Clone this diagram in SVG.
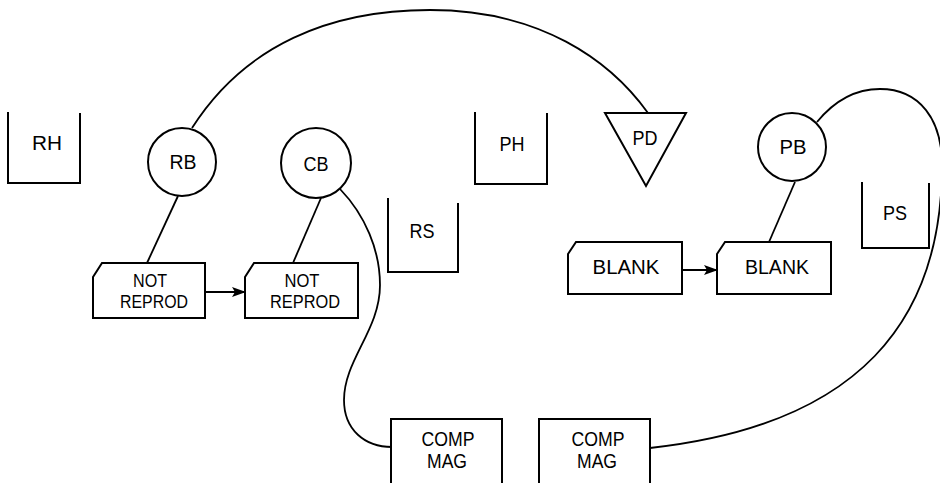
<svg xmlns="http://www.w3.org/2000/svg" width="940" height="483" viewBox="0 0 940 483">
<style>
.s{fill:none;stroke:#000;stroke-width:2;stroke-linejoin:miter}
.c{fill:none;stroke:#000;stroke-width:1.8}
.t{font-family:"Liberation Sans","DejaVu Sans",sans-serif;font-size:20.5px;fill:#000;text-anchor:middle}
.n{font-size:18px}
</style>
<defs>
<marker id="ah" markerWidth="14" markerHeight="10" refX="13" refY="5" orient="auto" markerUnits="userSpaceOnUse">
<path d="M0,0 L14,5 L0,10 L3,5 Z" fill="#000"/>
</marker>
</defs>
<rect width="940" height="483" fill="#fff"/>
<g id="connectors">
<path class="c" d="M192,128 C245,45 330,10 430,10 C540,10 610,60 648,113"/>
<path class="c" d="M178,196 L147,263"/>
<path class="c" d="M321,198 L293,263"/>
<path class="c" d="M340,189 C365,215 380,250 380,285 C380,330 344,360 344,400 C344,430 365,447 392,447"/>
<path class="c" d="M795,182 L769,242"/>
<path class="c" d="M817,122 C835,100 855,89 880,89 C920,89 942,120 942,165 C942,320 860,425 650,448"/>
<path class="c" d="M205,292 L245,292" marker-end="url(#ah)"/>
<path class="c" d="M682,270 L717,270" marker-end="url(#ah)"/>
</g>
<g id="RH">
<path class="s" d="M8,112 L8,183 L80,183 L80,113"/>
<text class="t" x="47" y="150" textLength="30" lengthAdjust="spacingAndGlyphs">RH</text>
</g>
<g id="RB">
<circle class="s" cx="182" cy="162" r="34"/>
<text class="t" x="183" y="169" textLength="27" lengthAdjust="spacingAndGlyphs">RB</text>
</g>
<g id="CB">
<circle class="s" cx="316" cy="163" r="35"/>
<text class="t" x="316" y="171" textLength="25" lengthAdjust="spacingAndGlyphs">CB</text>
</g>
<g id="PH">
<path class="s" d="M475,112 L475,184 L547,184 L547,113"/>
<text class="t" x="512" y="151" textLength="25" lengthAdjust="spacingAndGlyphs">PH</text>
</g>
<g id="RS">
<path class="s" d="M388,198 L388,272 L458,272 L458,203"/>
<text class="t" x="422" y="238" textLength="25" lengthAdjust="spacingAndGlyphs">RS</text>
</g>
<g id="PD">
<path class="s" d="M605,113 L686,113 L646,186 Z"/>
<text class="t" x="645" y="145" textLength="25" lengthAdjust="spacingAndGlyphs">PD</text>
</g>
<g id="PB">
<circle class="s" cx="792" cy="147" r="34"/>
<text class="t" x="793" y="154" textLength="27" lengthAdjust="spacingAndGlyphs">PB</text>
</g>
<g id="PS">
<path class="s" d="M862,182 L862,248 L929,248 L929,183"/>
<text class="t" x="895" y="220" textLength="24" lengthAdjust="spacingAndGlyphs">PS</text>
</g>
<g id="NOTREPROD1">
<path class="s" d="M93,277 L102,263 L205,263 L205,318 L93,318 Z"/>
<text class="t n" x="150" y="287" textLength="34" lengthAdjust="spacingAndGlyphs">NOT</text>
<text class="t n" x="154" y="308" textLength="68" lengthAdjust="spacingAndGlyphs">REPROD</text>
</g>
<g id="NOTREPROD2">
<path class="s" d="M245,277 L254,263 L358,263 L358,318 L245,318 Z"/>
<text class="t n" x="302" y="287" textLength="35" lengthAdjust="spacingAndGlyphs">NOT</text>
<text class="t n" x="305" y="308" textLength="70" lengthAdjust="spacingAndGlyphs">REPROD</text>
</g>
<g id="BLANK1">
<path class="s" d="M568,254 L576,242 L682,242 L682,294 L568,294 Z"/>
<text class="t" x="626" y="274" textLength="67" lengthAdjust="spacingAndGlyphs">BLANK</text>
</g>
<g id="BLANK2">
<path class="s" d="M717,254 L725,242 L831,242 L831,294 L717,294 Z"/>
<text class="t" x="777" y="274" textLength="64" lengthAdjust="spacingAndGlyphs">BLANK</text>
</g>
<g id="COMPMAG1">
<path class="s" d="M391,495 L391,419 L502,419 L502,495"/>
<text class="t" x="448" y="446" textLength="53" lengthAdjust="spacingAndGlyphs">COMP</text>
<text class="t" x="447" y="468" textLength="40" lengthAdjust="spacingAndGlyphs">MAG</text>
</g>
<g id="COMPMAG2">
<path class="s" d="M539,495 L539,419 L650,419 L650,495"/>
<text class="t" x="598" y="446" textLength="53" lengthAdjust="spacingAndGlyphs">COMP</text>
<text class="t" x="597" y="468" textLength="40" lengthAdjust="spacingAndGlyphs">MAG</text>
</g>
</svg>
